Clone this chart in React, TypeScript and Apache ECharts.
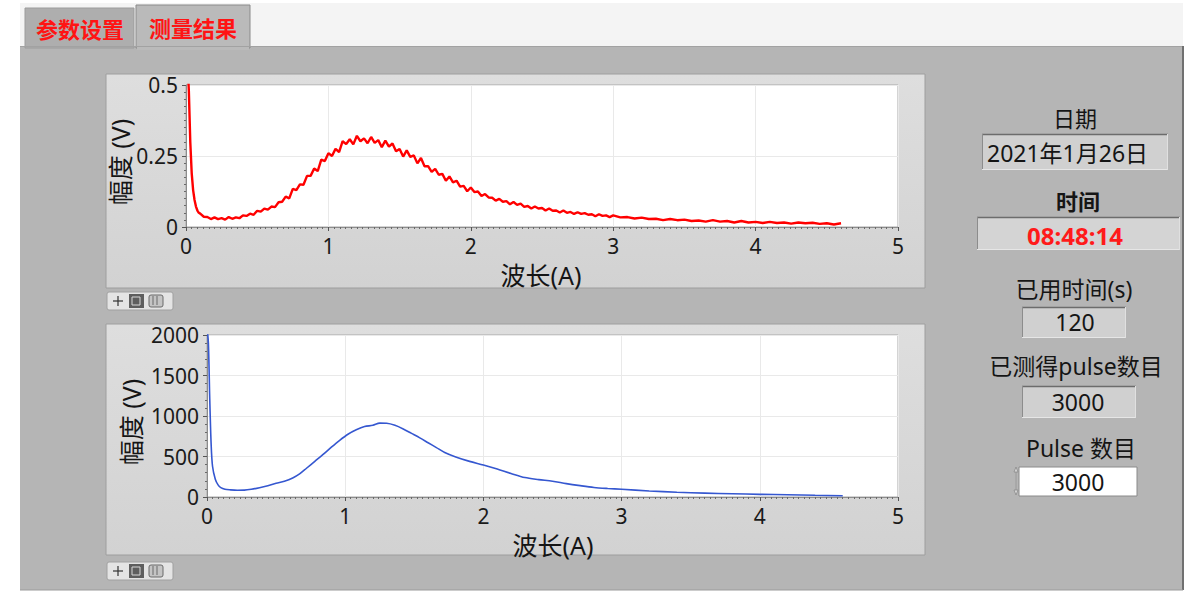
import React, { useEffect, useRef } from "react";
import * as echarts from "echarts";

const FONT = '"Noto Sans", "Noto Sans CJK SC", sans-serif';

// ---- texts ----
const tabLabels = ["参数设置", "测量结果"];
const yAxisTitle = "幅度 (V)";
const xAxisTitle = "波长(A)";
const dateLabel = "日期";
const dateValue = "2021年1月26日";
const timeLabel = "时间";
const timeValue = "08:48:14";
const elapsedLabel = "已用时间(s)";
const elapsedValue = "120";
const measuredLabel = "已测得pulse数目";
const measuredValue = "3000";
const pulseLabel = "Pulse 数目";
const pulseValue = "3000";

// ---- axis ranges ----
const xRange = [0, 5];
const xInterval = 1;
const topYRange = [0, 0.5];
const topYInterval = 0.25;
const bottomYRange = [0, 2000];
const bottomYInterval = 500;

// ---- series (wavelength A, amplitude) ----
const redTrace: [number, number][] = [
  [0, 0.7], [0.02, 0.48], [0.03, 0.3], [0.04, 0.19], [0.05, 0.13], [0.06, 0.095], [0.07, 0.072], [0.08, 0.058], [0.09, 0.05],
  [0.1, 0.047], [0.125, 0.036], [0.15, 0.035], [0.175, 0.028], [0.2, 0.034], [0.225, 0.028], [0.25, 0.031], [0.275, 0.026],
  [0.3, 0.035], [0.325, 0.029], [0.35, 0.034], [0.375, 0.031], [0.4, 0.041], [0.425, 0.039], [0.45, 0.047], [0.475, 0.043],
  [0.5, 0.057], [0.525, 0.054], [0.55, 0.065], [0.575, 0.061], [0.6, 0.072], [0.625, 0.07], [0.65, 0.087], [0.675, 0.089],
  [0.7, 0.107], [0.725, 0.101], [0.75, 0.134], [0.775, 0.13], [0.8, 0.15], [0.825, 0.149], [0.85, 0.18], [0.875, 0.18],
  [0.9, 0.206], [0.925, 0.197], [0.95, 0.237], [0.975, 0.232], [1, 0.26], [1.025, 0.25], [1.05, 0.275], [1.075, 0.264],
  [1.1, 0.302], [1.125, 0.292], [1.15, 0.309], [1.175, 0.291], [1.2, 0.321], [1.225, 0.302], [1.25, 0.312], [1.275, 0.295],
  [1.3, 0.317], [1.325, 0.296], [1.35, 0.306], [1.375, 0.281], [1.4, 0.304], [1.425, 0.283], [1.45, 0.294], [1.475, 0.267],
  [1.5, 0.275], [1.525, 0.248], [1.55, 0.27], [1.575, 0.247], [1.6, 0.252], [1.625, 0.224], [1.65, 0.243], [1.675, 0.214],
  [1.7, 0.214], [1.725, 0.194], [1.75, 0.205], [1.775, 0.184], [1.8, 0.187], [1.825, 0.163], [1.85, 0.178], [1.875, 0.157],
  [1.9, 0.163], [1.925, 0.142], [1.95, 0.145], [1.975, 0.126], [2, 0.139], [2.025, 0.123], [2.05, 0.125], [2.075, 0.109],
  [2.1, 0.116], [2.125, 0.104], [2.15, 0.103], [2.175, 0.093], [2.2, 0.099], [2.225, 0.089], [2.25, 0.091], [2.275, 0.08],
  [2.3, 0.088], [2.325, 0.078], [2.35, 0.082], [2.375, 0.071], [2.4, 0.074], [2.425, 0.065], [2.45, 0.072], [2.475, 0.065],
  [2.5, 0.067], [2.525, 0.058], [2.55, 0.065], [2.575, 0.057], [2.6, 0.058], [2.625, 0.051], [2.65, 0.058], [2.675, 0.05],
  [2.7, 0.053], [2.725, 0.046], [2.75, 0.052], [2.775, 0.046], [2.8, 0.049], [2.825, 0.043], [2.85, 0.045], [2.875, 0.038],
  [2.9, 0.045], [2.925, 0.039], [2.95, 0.041], [2.975, 0.035], [3, 0.041], [3.05, 0.034], [3.1, 0.035], [3.15, 0.03],
  [3.2, 0.033], [3.25, 0.028], [3.3, 0.029], [3.35, 0.024], [3.4, 0.028], [3.45, 0.024], [3.5, 0.026], [3.55, 0.021],
  [3.6, 0.023], [3.65, 0.019], [3.7, 0.024], [3.75, 0.019], [3.8, 0.021], [3.85, 0.016], [3.9, 0.021], [3.95, 0.016],
  [4, 0.018], [4.05, 0.014], [4.1, 0.018], [4.15, 0.014], [4.2, 0.016], [4.25, 0.012], [4.3, 0.016], [4.35, 0.013],
  [4.4, 0.015], [4.45, 0.011], [4.5, 0.013], [4.55, 0.009], [4.6, 0.013],
];

const blueTrace: [number, number][] = [
  [0, 2100], [0.01, 1900], [0.02, 1200], [0.03, 650], [0.04, 380], [0.06, 220], [0.08, 150], [0.1, 115], [0.13, 95],
  [0.17, 88], [0.22, 84], [0.27, 85], [0.32, 95], [0.38, 115], [0.44, 140], [0.5, 170], [0.56, 195], [0.62, 235],
  [0.67, 285], [0.72, 355], [0.78, 440], [0.84, 525], [0.9, 615], [0.96, 700], [1.02, 775], [1.08, 830], [1.14, 870],
  [1.2, 885], [1.25, 912], [1.3, 910], [1.36, 885], [1.42, 840], [1.48, 785], [1.54, 730], [1.6, 670], [1.66, 610],
  [1.72, 550], [1.8, 495], [1.9, 440], [2.0, 395], [2.1, 345], [2.2, 290], [2.3, 240], [2.4, 215], [2.5, 195],
  [2.6, 165], [2.7, 140], [2.8, 118], [2.9, 105], [3.0, 95], [3.2, 75], [3.4, 58], [3.6, 48], [3.8, 40], [4.0, 33],
  [4.2, 27], [4.4, 21], [4.6, 16],
];

type Opt = { color?: string; bold?: boolean; align?: string; rot?: number };
function txt(text: string, x: number, y: number, size: number, o: Opt = {}) {
  return {
    type: "text",
    x,
    y,
    rotation: o.rot || 0,
    z: 5,
    style: {
      text,
      x: 0,
      y: 0,
      fontSize: size,
      fontFamily: FONT,
      fontWeight: o.bold ? "bold" : "normal",
      fill: o.color || "#151515",
      align: o.align || "center",
      verticalAlign: "middle",
    },
  };
}
function rect(x: number, y: number, w: number, h: number, fill: any, stroke?: string, r = 0) {
  return {
    type: "rect",
    z: -10,
    shape: { x, y, width: w, height: h, r },
    style: { fill, stroke: stroke || "none", lineWidth: 1 },
  };
}
function line(x1: number, y1: number, x2: number, y2: number, stroke: string, lw = 1) {
  return { type: "line", z: -9, shape: { x1, y1, x2, y2 }, style: { stroke, lineWidth: lw } };
}
function indicator(x: number, y: number, w: number, h: number, fill: string) {
  return [
    rect(x, y, w, h, fill),
    line(x, y + 0.5, x + w, y + 0.5, "#6c6c6c", 1.5),
    line(x + 0.5, y, x + 0.5, y + h, "#8c8c8c", 1),
    line(x, y + h - 0.5, x + w, y + h - 0.5, "#e6e6e6", 1),
    line(x + w - 0.5, y, x + w - 0.5, y + h, "#e0e0e0", 1),
  ];
}
function palette(x: number, y: number) {
  return [
    rect(x, y, 66, 18, "#e4e4e4", "#a0a0a0", 2),
    line(x + 6, y + 9, x + 16, y + 9, "#333", 1.2),
    line(x + 11, y + 4, x + 11, y + 14, "#333", 1.2),
    rect(x + 22, y + 2, 15, 14, "#5e5e5e"),
    rect(x + 25, y + 5, 8, 8, "none", "#d8d8d8"),
    rect(x + 42, y + 3, 14, 12, "#c4c4c4", "#6a6a6a", 2),
    line(x + 46, y + 4, x + 46, y + 13, "#6a6a6a", 1),
    line(x + 50, y + 4, x + 50, y + 13, "#6a6a6a", 1),
  ];
}

const frameGrad = new echarts.graphic.LinearGradient(0, 0, 0, 1, [
  { offset: 0, color: "#dedede" },
  { offset: 1, color: "#d2d2d2" },
]);

function axisCommon(minorSplit: number) {
  return {
    axisLine: { show: true, onZero: false, lineStyle: { color: "#8c8c8c", width: 1 } },
    axisTick: { show: true, length: 4, lineStyle: { color: "#555" } },
    minorTick: { show: true, splitNumber: minorSplit, length: 2, lineStyle: { color: "#6a6a6a" } },
    splitLine: { show: true, lineStyle: { color: "#e9e9e9" } },
    axisLabel: { fontSize: 21, color: "#1a1a1a", margin: 8, fontFamily: FONT, formatter: (v: number) => String(v) },
  };
}

const option: any = {
  animation: false,
  backgroundColor: "#ffffff",
  grid: [
    { left: 186, top: 85, width: 712, height: 142, show: true, backgroundColor: "#ffffff", borderColor: "#a8a8a8", borderWidth: 1 },
    { left: 207, top: 335, width: 691, height: 162, show: true, backgroundColor: "#ffffff", borderColor: "#a8a8a8", borderWidth: 1 },
  ],
  xAxis: [
    { gridIndex: 0, type: "value", min: xRange[0], max: xRange[1], interval: xInterval, ...axisCommon(25) },
    { gridIndex: 1, type: "value", min: xRange[0], max: xRange[1], interval: xInterval, ...axisCommon(25) },
  ],
  yAxis: [
    { gridIndex: 0, type: "value", min: topYRange[0], max: topYRange[1], interval: topYInterval, ...axisCommon(10) },
    { gridIndex: 1, type: "value", min: bottomYRange[0], max: bottomYRange[1], interval: bottomYInterval, ...axisCommon(5) },
  ],
  series: [
    {
      type: "line",
      xAxisIndex: 0,
      yAxisIndex: 0,
      data: redTrace,
      showSymbol: false,
      clip: true,
      lineStyle: { color: "#ff0000", width: 2.4 },
    },
    {
      type: "line",
      xAxisIndex: 1,
      yAxisIndex: 1,
      data: blueTrace,
      showSymbol: false,
      smooth: 0.3,
      clip: true,
      lineStyle: { color: "#3557d0", width: 1.6 },
    },
  ],
  graphic: {
    elements: [
      // tab strip
      rect(20, 3, 1163, 44, "#f4f4f4"),
      // main panel
      rect(20, 46, 1163, 544, "#b5b5b5"),
      line(20, 46.5, 1183, 46.5, "#a2a2a2", 1),
      line(1183, 46, 1183, 590, "#707070", 2),
      line(20, 590, 1183, 590, "#9a9a9a", 1),
      // tabs
      rect(25, 8, 109, 40, "#aeaeae", "#9c9c9c"),
      rect(136, 5, 114, 43, "#bababa", "#8a8a8a"),
      rect(137, 44, 112, 6, "#bababa"),
      txt(tabLabels[0], 80, 29, 22, { color: "#ff1414", bold: true }),
      txt(tabLabels[1], 193, 28, 22, { color: "#ff1414", bold: true }),
      // top chart frame
      rect(106, 74, 819, 214, frameGrad, "#9e9e9e"),
      ...palette(107, 292),
      // bottom chart frame
      rect(106, 324, 819, 231, frameGrad, "#9e9e9e"),
      ...palette(107, 562),
      // axis titles
      txt(yAxisTitle, 120, 162, 25, { rot: Math.PI / 2 }),
      txt(xAxisTitle, 541, 275, 25),
      txt(yAxisTitle, 131, 422, 25, { rot: Math.PI / 2 }),
      txt(xAxisTitle, 553, 545, 25),
      // right side indicators
      txt(dateLabel, 1075, 118, 22),
      ...indicator(982, 134, 186, 36, "#d0d0d0"),
      txt(dateValue, 987, 153, 23, { align: "left" }),
      txt(timeLabel, 1078, 201, 22, { bold: true }),
      ...indicator(977, 217, 203, 33, "#d4d4d4"),
      txt(timeValue, 1075, 235, 24, { bold: true, color: "#ff1a1a" }),
      txt(elapsedLabel, 1074, 289, 23),
      ...indicator(1022, 307, 104, 31, "#d0d0d0"),
      txt(elapsedValue, 1075, 322, 23),
      txt(measuredLabel, 1076, 366, 23),
      ...indicator(1022, 386, 114, 32, "#d0d0d0"),
      txt(measuredValue, 1078, 402, 23),
      txt(pulseLabel, 1081, 448, 23),
      rect(1019, 467, 118, 29, "#ffffff", "#8a8a8a"),
      txt(pulseValue, 1078, 482, 23),
      { type: "polygon", z: -5, shape: { points: [[1014, 472], [1016, 467], [1018, 472]] }, style: { fill: "#d8d8d8", stroke: "#8a8a8a", lineWidth: 0.8 } },
      { type: "polygon", z: -5, shape: { points: [[1014, 490], [1016, 495], [1018, 490]] }, style: { fill: "#d8d8d8", stroke: "#8a8a8a", lineWidth: 0.8 } },
      line(1016, 472, 1016, 490, "#9a9a9a", 1),
    ],
  },
};

export default function App() {
  const ref = useRef<HTMLDivElement>(null);
  useEffect(() => {
    document.body.style.margin = "0";
    const chart = echarts.init(ref.current!, null, { renderer: "svg" });
    chart.setOption(option);
    return () => chart.dispose();
  }, []);
  return <div ref={ref} style={{ width: 1196, height: 592 }} />;
}
